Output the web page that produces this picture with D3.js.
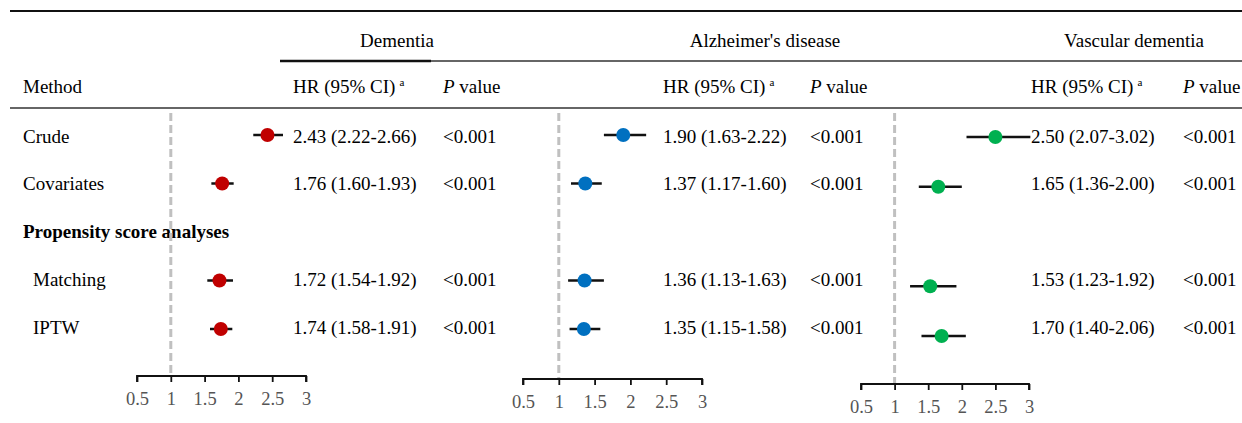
<!DOCTYPE html>
<html>
<head>
<meta charset="utf-8">
<script src="https://cdn.jsdelivr.net/npm/d3@7"></script>
<style>
  body { margin: 0; background: #fff; }
  svg { font-family: "Liberation Serif", "Times New Roman", serif; }
</style>
</head>
<body>
<svg id="chart"></svg>
<script>
// rows of the table
const methods = ["Crude", "Covariates", "Propensity score analyses", "Matching", "IPTW"];
const indented = [false, false, false, true, true];
const sectionRow = 2;

const outcomes = ["Dementia", "Alzheimer's disease", "Vascular dementia"];

// hazard ratios and 95% CI per outcome (null = section header row)
const demHR = [2.43, 1.76, null, 1.72, 1.74];
const demLo = [2.22, 1.60, null, 1.54, 1.58];
const demHi = [2.66, 1.93, null, 1.92, 1.91];

const adHR = [1.90, 1.37, null, 1.36, 1.35];
const adLo = [1.63, 1.17, null, 1.13, 1.15];
const adHi = [2.22, 1.60, null, 1.63, 1.58];

const vdHR = [2.50, 1.65, null, 1.53, 1.70];
const vdLo = [2.07, 1.36, null, 1.23, 1.40];
const vdHi = [3.02, 2.00, null, 1.92, 2.06];

const pValues = ["<0.001", "<0.001", null, "<0.001", "<0.001"];

const tickValues = [0.5, 1, 1.5, 2, 2.5, 3];

const width = 1242, height = 423;

const svg = d3.select('#chart')
    .attr('width', width)
    .attr('height', height);

// panel layout (each forest panel sits a little differently)
const panels = [
    { name: outcomes[0], hr: demHR, lo: demLo, hi: demHi, color: '#c00000',
      x0: 137, x1: 306, axisY: 376, rowTop: 135, rowBottom: 329, hrX: 293, pX: 443, headX: 397 },
    { name: outcomes[1], hr: adHR, lo: adLo, hi: adHi, color: '#0070c0',
      x0: 523, x1: 702, axisY: 379, rowTop: 135, rowBottom: 329, hrX: 663, pX: 810, headX: 765 },
    { name: outcomes[2], hr: vdHR, lo: vdLo, hi: vdHi, color: '#00b050',
      x0: 861, x1: 1029, axisY: 384, rowTop: 137, rowBottom: 336, hrX: 1031, pX: 1183, headX: 1134 }
];

const fontSize = 19;

// text rows
const yText = d3.scalePoint()
    .domain(methods)
    .range([136, 327]);

// header rules
svg.append('line')
    .attr('x1', 10).attr('x2', width)
    .attr('y1', 11).attr('y2', 11)
    .attr('stroke', '#111').attr('stroke-width', 1.8);

svg.append('line')
    .attr('x1', 431).attr('x2', width)
    .attr('y1', 61).attr('y2', 61)
    .attr('stroke', '#333').attr('stroke-width', 1.5);

svg.append('line')
    .attr('x1', 280).attr('x2', 431)
    .attr('y1', 61).attr('y2', 61)
    .attr('stroke', '#111').attr('stroke-width', 2.5);

svg.append('line')
    .attr('x1', 10).attr('x2', width)
    .attr('y1', 108).attr('y2', 108)
    .attr('stroke', '#666').attr('stroke-width', 2);

// header texts
svg.append('text')
    .attr('x', 23).attr('y', 86).attr('dy', '0.35em')
    .style('font-size', fontSize + 'px')
    .text('Method');

panels.forEach(p => {
    svg.append('text')
        .attr('x', p.headX).attr('y', 40).attr('dy', '0.35em')
        .attr('text-anchor', 'middle')
        .style('font-size', fontSize + 'px')
        .text(p.name);

    const hrHead = svg.append('text')
        .attr('x', p.hrX).attr('y', 86).attr('dy', '0.35em')
        .style('font-size', fontSize + 'px');
    hrHead.append('tspan').text('HR (95% CI)');
    hrHead.append('tspan')
        .attr('dx', 4).attr('dy', -7)
        .style('font-size', '11px')
        .text('a');

    const pHead = svg.append('text')
        .attr('x', p.pX).attr('y', 86).attr('dy', '0.35em')
        .style('font-size', fontSize + 'px');
    pHead.append('tspan').style('font-style', 'italic').text('P');
    pHead.append('tspan').text(' value');
});

// row labels
svg.selectAll('.row-label')
    .data(methods)
    .join('text')
    .attr('class', 'row-label')
    .attr('x', (d, i) => indented[i] ? 33 : 23)
    .attr('y', d => yText(d))
    .attr('dy', '0.35em')
    .style('font-size', fontSize + 'px')
    .style('font-weight', (d, i) => i === sectionRow ? 'bold' : 'normal')
    .text(d => d);

// forest panels
panels.forEach(p => {
    const x = d3.scaleLinear()
        .domain([0.5, 3])
        .range([p.x0, p.x1]);

    const y = d3.scalePoint()
        .domain(methods)
        .range([p.rowTop, p.rowBottom]);

    const g = svg.append('g');

    // reference line at HR = 1
    g.append('line')
        .attr('x1', x(1)).attr('x2', x(1))
        .attr('y1', 113).attr('y2', p.axisY)
        .attr('stroke', '#c0c0c0')
        .attr('stroke-width', 3)
        .attr('stroke-dasharray', '8,4');

    // axis
    const axis = d3.axisBottom(x)
        .tickValues(tickValues)
        .tickSize(6)
        .tickPadding(10)
        .tickFormat(d3.format('~g'));

    const axisG = g.append('g')
        .attr('transform', `translate(0,${p.axisY})`)
        .call(axis);
    axisG.select('.domain')
        .attr('d', `M${p.x0},6V0H${p.x1}V6`)
        .attr('stroke', '#111')
        .attr('stroke-width', 1.8);
    axisG.selectAll('.tick line')
        .attr('stroke', '#111')
        .attr('stroke-width', 1.8);
    axisG.selectAll('.tick text')
        .attr('fill', '#555')
        .style('font-family', '"Liberation Serif", "Times New Roman", serif')
        .style('font-size', '18.5px');

    const rows = methods.map((m, i) => ({ m, hr: p.hr[i], lo: p.lo[i], hi: p.hi[i], pv: pValues[i] }))
        .filter(d => d.hr != null);

    g.selectAll('.ci')
        .data(rows)
        .join('line')
        .attr('class', 'ci')
        .attr('x1', d => x(d.lo)).attr('x2', d => x(d.hi))
        .attr('y1', d => y(d.m)).attr('y2', d => y(d.m))
        .attr('stroke', '#111')
        .attr('stroke-width', 2.5);

    g.selectAll('.pt')
        .data(rows)
        .join('circle')
        .attr('class', 'pt')
        .attr('cx', d => x(d.hr))
        .attr('cy', d => y(d.m))
        .attr('r', 7)
        .attr('fill', p.color);

    g.selectAll('.hr-text')
        .data(rows)
        .join('text')
        .attr('class', 'hr-text')
        .attr('x', p.hrX)
        .attr('y', d => yText(d.m))
        .attr('dy', '0.35em')
        .style('font-size', fontSize + 'px')
        .text(d => `${d.hr.toFixed(2)} (${d.lo.toFixed(2)}-${d.hi.toFixed(2)})`);

    g.selectAll('.p-text')
        .data(rows)
        .join('text')
        .attr('class', 'p-text')
        .attr('x', p.pX)
        .attr('y', d => yText(d.m))
        .attr('dy', '0.35em')
        .style('font-size', fontSize + 'px')
        .text(d => d.pv);
});
</script>
</body>
</html>
